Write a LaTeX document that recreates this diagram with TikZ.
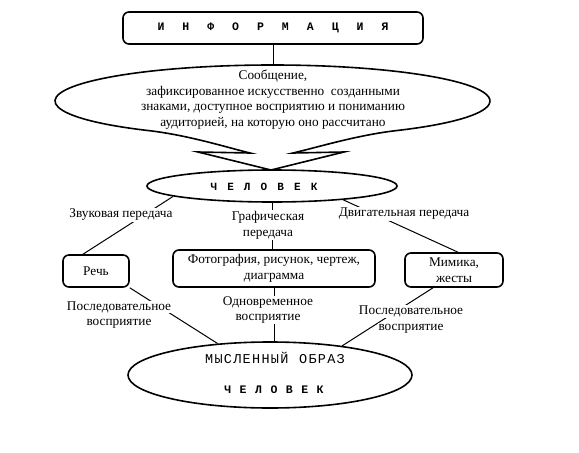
\documentclass[tikz,border=0pt]{standalone}
\usepackage{fontspec}
\setmainfont{Liberation Serif}
\setmonofont{Liberation Mono}
\usetikzlibrary{shapes.geometric,calc}
\newlength\ltw
\newcommand\Ltr[1]{\makebox[\ltw]{#1}}
\newcommand\txt{\fontsize{13.3}{15.6}\selectfont}
\setlength\fboxsep{0.5pt}
\newcommand\wb[1]{\colorbox{white}{#1}}
\begin{document}
\begin{tikzpicture}[x=1pt,y=-1pt,
  box/.style={draw, rounded corners=6pt, line width=1.6pt, align=center, inner sep=1pt, font=\txt},
  ell/.style={draw, ellipse, line width=1.6pt, inner sep=0pt},
  conn/.style={line width=1pt},
  lab/.style={fill=white, inner sep=0.8pt, align=center, font=\txt},
  labx/.style={inner sep=0pt, align=center, font=\txt}]
\useasboundingbox (0,0) rectangle (579,453);

% top box
\node[box, minimum width=300, minimum height=32] (info) at (273,28)
  {\fontsize{11.5}{13}\selectfont\ttfamily\bfseries\setlength\ltw{24.9pt}%
   \Ltr{И}\Ltr{Н}\Ltr{Ф}\Ltr{О}\Ltr{Р}\Ltr{М}\Ltr{А}\Ltr{Ц}\Ltr{И}\Ltr{Я}};

% callout
\coordinate (C) at (272.5,101);
\coordinate (ctop) at (273,65);
\coordinate (L1) at (250,153);
\coordinate (L2) at (198,152);
\coordinate (A) at (271,170);
\coordinate (R2) at (344,152);
\coordinate (R1) at (293,153);
\draw[line width=1.6pt, line join=miter] (L1) .. controls (229,148) and (188,135) ..
  ($(C)+(235:217.5pt and 36pt)$)
  arc[start angle=235, end angle=-55, x radius=217.5pt, y radius=36pt]
  .. controls (357,135) and (315,148) .. (R1) -- (R2) -- (A) -- (L2) -- cycle;
\node[font=\txt, align=center] (msg) at (273,99.5)
  {Сообщение,\\ зафиксированное искусственно~ созданными\\ знаками, доступное восприятию и пониманию\\ аудиторией, на которую оно рассчитано};
\draw[conn] (info.south) -- (ctop);

% human
\node[ell, minimum width=250, minimum height=32] (chel) at (272,186) {};
\node[inner sep=0pt] (chelt) at (264,186.5)
  {\fontsize{11}{12}\selectfont\ttfamily\bfseries\setlength\ltw{16.7pt}%
   \Ltr{Ч}\Ltr{Е}\Ltr{Л}\Ltr{О}\Ltr{В}\Ltr{Е}\Ltr{К}};

% boxes
\node[box, minimum width=66, minimum height=32] (rech) at (96,271) {Речь};
\node[box, minimum width=202, minimum height=37] (foto) at (274,268.5)
  {Фотография, рисунок, чертеж,\\диаграмма};
\node[box, minimum width=98, minimum height=34] (mim) at (454,270)
  {Мимика,\\жесты};

% mental image
\node[ell, minimum width=284, minimum height=66] (mys) at (270,375) {};
\node[inner sep=0pt] (myst) at (275,358)
  {\fontsize{13.5}{15}\selectfont\ttfamily\setlength\ltw{9.4pt}%
   \Ltr{М}\Ltr{Ы}\Ltr{С}\Ltr{Л}\Ltr{Е}\Ltr{Н}\Ltr{Н}\Ltr{Ы}\Ltr{Й}\Ltr{}\Ltr{О}\Ltr{Б}\Ltr{Р}\Ltr{А}\Ltr{З}};
\node[inner sep=0pt] (mysc) at (274,390)
  {\fontsize{11.5}{13}\selectfont\ttfamily\bfseries\setlength\ltw{15.4pt}%
   \Ltr{Ч}\Ltr{Е}\Ltr{Л}\Ltr{О}\Ltr{В}\Ltr{Е}\Ltr{К}};

% connectors
\draw[conn] (chel.186) -- ([xshift=-13pt]rech.north);
\draw[conn] (chel.south) -- (chel.south |- foto.north);
\draw[conn] (chel.349) -- ([xshift=4pt]mim.north);
\draw[conn] (rech.south east) -- (mys.149);
\draw[conn] (foto.south) -- (foto.south |- mys.north);
\draw[conn] ([xshift=-21pt]mim.south) -- (mys.22);

% labels
\node[lab] (zv) at (121,215) {Звуковая передача};
\node[lab] (gr) at (268,225) {Графическая\\передача};
\node[lab] (dv) at (404,214) {Двигательная передача};
\node[labx] (pl) at (119,315) {\wb{Последовательное}\\\wb{восприятие}};
\node[lab] (od) at (268,310) {Одновременное\\восприятие};
\node[labx] (pr) at (411,319.5) {\wb{Последовательное}\\\wb{восприятие}};
\end{tikzpicture}
\end{document}
